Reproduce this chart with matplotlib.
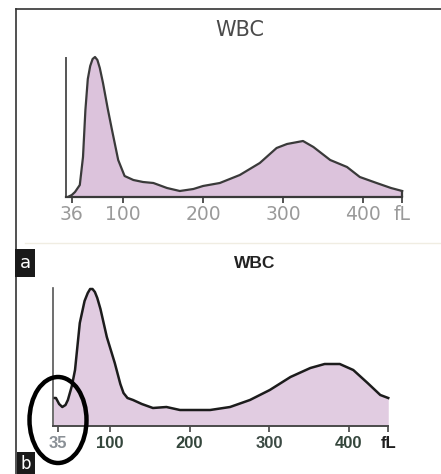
import matplotlib
matplotlib.use("Agg")
import matplotlib.pyplot as plt
from matplotlib.lines import Line2D
from matplotlib.patches import Ellipse

# panel a: WBC histogram (size in fL vs relative count)
size_a = [31, 36, 40, 46, 50, 53, 56, 59, 62, 65, 68, 71, 75, 81, 86, 94, 102, 113, 125,
          138, 155, 171, 188, 200, 221, 246, 271, 292, 305, 325, 338, 359, 380,
          396, 417, 435, 449]
count_a = [0, 2, 5, 12, 40, 87, 118, 131, 138, 140, 137, 129, 114, 88, 68, 37, 21, 17, 15,
           14, 9, 6, 8, 11, 14, 22, 34, 49, 53, 56, 50, 37, 30,
           20, 14, 9, 6]
ticks_a = [36, 100, 200, 300, 400, 449]
labels_a = ["36", "100", "200", "300", "400", "fL"]

# panel b: WBC histogram with the small peak at the 35 fL threshold
size_b = [29, 32, 36, 40, 44, 47, 52, 56, 62, 68, 72, 75, 78, 81, 84, 88, 96, 106, 113,
          117, 122, 129, 140, 154, 171, 188, 200, 226, 251, 276, 301, 327, 352,
          370, 389, 406, 424, 440, 450]
count_b = [28, 28, 22, 19, 21, 26, 40, 56, 103, 125, 133, 137, 137, 134, 128, 117, 89, 63, 42,
           33, 28, 26, 22, 18, 19, 16, 16, 16, 19, 26, 36, 49, 58,
           62, 62, 56, 43, 31, 28]
ticks_b = [35, 100, 200, 300, 400, 450]
labels_b = ["35", "100", "200", "300", "400", "fL"]
label_colors_b = ["#8a9096", "#34463c", "#34463c", "#3c4a44", "#34463c", "#1e1e1e"]

W, H = 441, 474
fig = plt.figure(figsize=(W / 100, H / 100), dpi=100)


def px_axes(left, right, bottom, top):
    return fig.add_axes([left / W, 1 - bottom / H, (right - left) / W, (bottom - top) / H])


def style(ax, xlim, ylim, ytop, xend):
    ax.set_xlim(*xlim)
    ax.set_ylim(*ylim)
    ax.patch.set_alpha(0)
    for s in ["top", "right"]:
        ax.spines[s].set_visible(False)
    ax.spines["left"].set_bounds(0, ytop)
    ax.spines["bottom"].set_bounds(xlim[0], xend)
    ax.set_yticks([])


# ---- panel a
ax1 = px_axes(66, 411, 197, 50)
style(ax1, (28.75, 460), (0, 147), 139, 449)
ax1.spines["left"].set_color("#555555")
ax1.spines["left"].set_linewidth(1.4)
ax1.spines["bottom"].set_color("#3a3a3a")
ax1.spines["bottom"].set_linewidth(1.6)
ax1.fill_between(size_a, count_a, color="#dcc3dc", lw=0)
ax1.plot(size_a, count_a, color="#3a3a3a", lw=1.6, solid_joinstyle="round")
ax1.vlines(size_a[-1], 0, count_a[-1], color="#3a3a3a", lw=1.6)
ax1.set_xticks(ticks_a)
ax1.set_xticklabels(labels_a, fontsize=13.5, color="#9a9a9a", family="DejaVu Sans")
ax1.tick_params(axis="x", length=4, width=1.3, color="#444444", pad=2)
fig.text(240 / W, 1 - 30 / H, "WBC", ha="center", va="center", fontsize=15,
         color="#4a4a4a", family="DejaVu Sans")

# ---- panel b
ax2 = px_axes(53, 396.2, 426, 280)
style(ax2, (28.3, 460), (0, 146), 138, 450)
ax2.spines["left"].set_color("#555555")
ax2.spines["left"].set_linewidth(1.2)
ax2.spines["bottom"].set_color("#4a4a4a")
ax2.spines["bottom"].set_linewidth(1.4)
ax2.fill_between(size_b, count_b, color="#e1cce1", lw=0)
ax2.plot(size_b, count_b, color="#1c1c1c", lw=1.8, solid_joinstyle="round")
ax2.set_xticks(ticks_b)
ax2.set_xticklabels(labels_b, fontsize=12, fontweight="bold", family="Liberation Sans")
for lab, c in zip(ax2.get_xticklabels(), label_colors_b):
    lab.set_color(c)
ax2.tick_params(axis="x", length=4, width=1.2, color="#444444", pad=3)
fig.text(255 / W, 1 - 263 / H, "WBC", ha="center", va="center", fontsize=12.5,
         fontweight="bold", color="#222222", family="Liberation Sans")

# frame, divider, panel letters and highlight ellipse (figure pixels)
tr = fig.transFigure
fig.add_artist(Line2D([15.5 / W, 15.5 / W], [0, 1 - 8.5 / H], color="#333333", lw=1.2, transform=tr))
fig.add_artist(Line2D([15.5 / W, 1], [1 - 8.5 / H, 1 - 8.5 / H], color="#333333", lw=1.2, transform=tr))
fig.add_artist(Line2D([25 / W, 1], [1 - 243 / H, 1 - 243 / H], color="#f0ede2", lw=1.0, transform=tr))

box = dict(boxstyle="square,pad=0.25", facecolor="#1a1a1a", edgecolor="none")
fig.text(25 / W, 1 - 263 / H, "a", ha="center", va="center", fontsize=13,
         color="white", bbox=box, family="DejaVu Sans")
fig.text(26 / W, 1 - 464 / H, "b", ha="center", va="center", fontsize=12,
         color="white", bbox=dict(boxstyle="square,pad=0.2", facecolor="#1a1a1a", edgecolor="none"),
         family="DejaVu Sans")

ell = Ellipse((58 / W, 1 - 420 / H), 57 / W, 86 / H, transform=tr, fill=False,
              edgecolor="black", lw=3.2, zorder=10)
fig.add_artist(ell)

fig.savefig("out.png", dpi=100)
